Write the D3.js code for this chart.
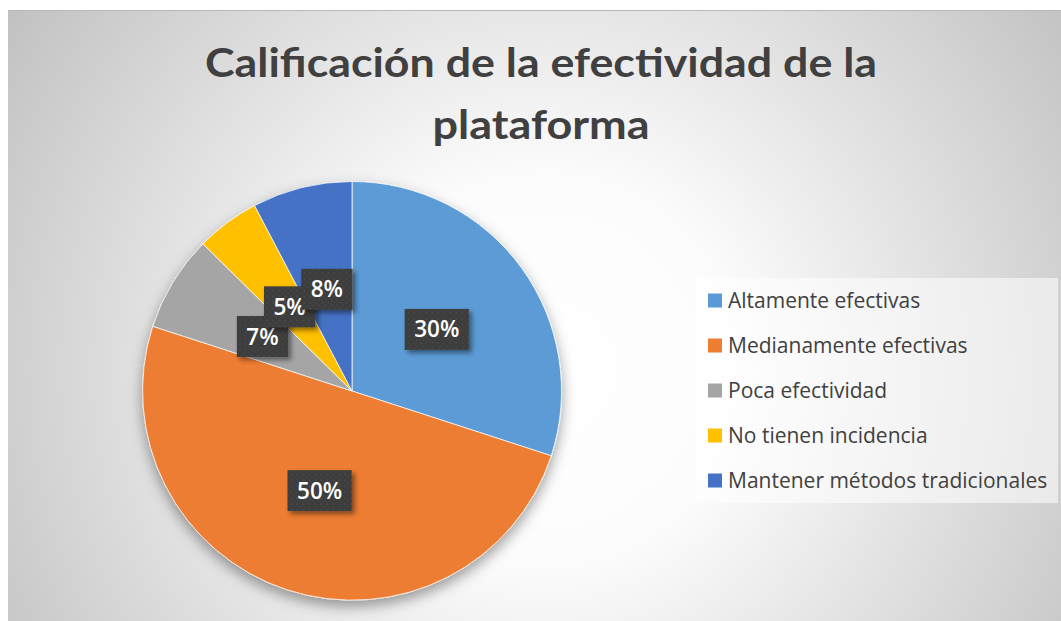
<html>
<head>
<meta charset="utf-8">
<script src="https://d3js.org/d3.v7.min.js"></script>
<style>
  body { margin: 0; background: #fff; }
</style>
</head>
<body>
<svg class="chart" width="1061" height="621"></svg>
<script>
// chart values
var categories = ["Altamente efectivas", "Medianamente efectivas", "Poca efectividad",
                  "No tienen incidencia", "Mantener métodos tradicionales"];
var values = [30, 50, 7.4, 4.9, 7.7];
var colors = ["#5B9BD5", "#ED7D31", "#A5A5A5", "#FFC000", "#4472C4"];
var titleLines = ["Calificación de la efectividad de la", "plataforma"];

var svg = d3.select(".chart");
var defs = svg.append("defs");

// background gradient
var grad = defs.append("radialGradient")
    .attr("id", "bg")
    .attr("gradientUnits", "userSpaceOnUse")
    .attr("cx", 545).attr("cy", 370).attr("r", 640);
grad.append("stop").attr("offset", "0").attr("stop-color", "#ffffff");
grad.append("stop").attr("offset", "0.3").attr("stop-color", "#fcfcfc");
grad.append("stop").attr("offset", "1").attr("stop-color", "#c2c2c2");

// soft shadow under the pie
var sh = defs.append("filter").attr("id", "pieShadow")
    .attr("x", "-20%").attr("y", "-20%").attr("width", "140%").attr("height", "140%");
sh.append("feDropShadow").attr("dx", 0).attr("dy", 6).attr("stdDeviation", 7)
    .attr("flood-color", "#000").attr("flood-opacity", 0.38);

var lsh = defs.append("filter").attr("id", "labShadow")
    .attr("x", "-30%").attr("y", "-30%").attr("width", "160%").attr("height", "160%");
lsh.append("feDropShadow").attr("dx", 3).attr("dy", 3).attr("stdDeviation", 2.5)
    .attr("flood-color", "#000").attr("flood-opacity", 0.45);

// dotted dark pattern for the data label boxes
var pat = defs.append("pattern").attr("id", "dots")
    .attr("patternUnits", "userSpaceOnUse").attr("width", 6).attr("height", 6);
pat.append("rect").attr("width", 6).attr("height", 6).attr("fill", "#3c3c3c");
pat.append("circle").attr("cx", 1.5).attr("cy", 1.5).attr("r", 0.9).attr("fill", "#4d4d4d");
pat.append("circle").attr("cx", 4.5).attr("cy", 4.5).attr("r", 0.9).attr("fill", "#474747");

// chart area
svg.append("rect")
    .attr("x", 8).attr("y", 10).attr("width", 1053).attr("height", 611)
    .attr("fill", "url(#bg)");
svg.append("line")
    .attr("x1", 8).attr("x2", 1061).attr("y1", 10.5).attr("y2", 10.5)
    .attr("stroke", "#b8b8b8").attr("stroke-width", 1);

// title
svg.append("g").selectAll("text").data(titleLines).enter()
  .append("text")
    .attr("x", 541)
    .attr("y", function(d, i) { return 77 + i * 62; })
    .attr("text-anchor", "middle")
    .attr("font-family", "Lato, 'Open Sans', sans-serif")
    .attr("font-weight", 700)
    .attr("font-size", 41)
    .attr("fill", "#404040")
    .attr("textLength", function(d, i) { return i == 0 ? 672 : 217; })
    .attr("lengthAdjust", "spacingAndGlyphs")
    .text(function(d) { return d; });

// pie
var cx = 352, cy = 391, r = 209.5;
var pie = d3.pie().sort(null).value(function(d) { return d; });
var arcs = pie(values);
var arc = d3.arc().innerRadius(0).outerRadius(r);
var total = d3.sum(values);

var g = svg.append("g").attr("transform", "translate(" + cx + "," + cy + ")");
g.append("g").attr("filter", "url(#pieShadow)")
  .selectAll("path").data(arcs).enter()
  .append("path")
    .attr("d", arc)
    .attr("fill", function(d, i) { return colors[i]; })
    .attr("stroke", "#ffffff")
    .attr("stroke-width", 0.75);

// data labels
var fmt = d3.format(".0%");
var labs = g.append("g").selectAll("g").data(arcs).enter()
  .append("g")
    .attr("transform", function(d) { return "translate(" + arc.centroid(d) + ")"; });
labs.append("rect")
    .attr("fill", "url(#dots)")
    .attr("filter", "url(#labShadow)");
labs.append("text")
    .attr("text-anchor", "middle")
    .attr("y", 8)
    .attr("font-family", "'Open Sans', sans-serif")
    .attr("font-weight", 600)
    .attr("font-size", 22.5)
    .attr("fill", "#ffffff")
    .text(function(d) { return fmt(d.value / total); });
labs.each(function() {
  var w = d3.select(this).select("text").node().getComputedTextLength() + 19;
  d3.select(this).select("rect")
    .attr("x", -w / 2).attr("y", -20.5).attr("width", w).attr("height", 41);
});

// legend
var ly = d3.scaleBand().domain(categories).range([278, 503]);
var leg = svg.append("g");
leg.append("rect")
    .attr("x", 696).attr("y", 278).attr("width", 362).attr("height", 225)
    .attr("fill", "#ffffff").attr("fill-opacity", 0.55);
var items = leg.selectAll("g").data(categories).enter()
  .append("g")
    .attr("transform", function(d) { return "translate(708," + (ly(d) + ly.bandwidth() / 2) + ")"; });
items.append("rect")
    .attr("x", 0).attr("y", -7).attr("width", 14).attr("height", 14)
    .attr("fill", function(d, i) { return colors[i]; });
items.append("text")
    .attr("x", 20).attr("y", 7.5)
    .attr("font-family", "'Open Sans', sans-serif")
    .attr("font-size", 21)
    .attr("fill", "#404040")
    .text(function(d) { return d; });
</script>
</body>
</html>
